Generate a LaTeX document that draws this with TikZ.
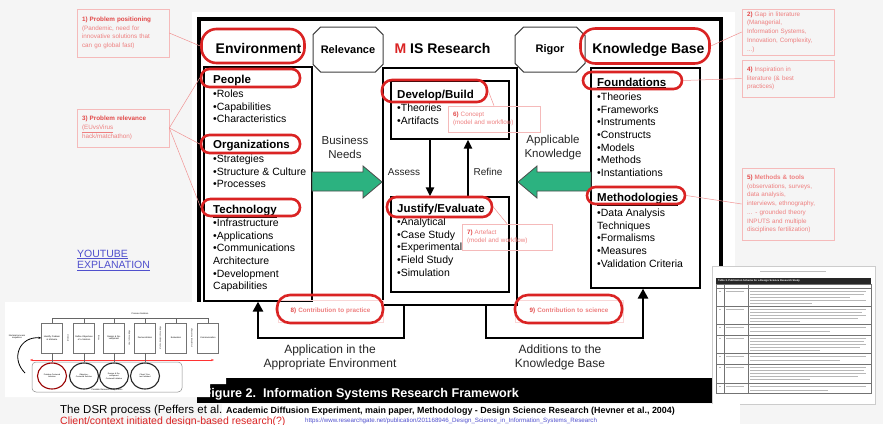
\documentclass[tikz,border=0pt]{standalone}
\usepackage{fontspec}
\setmainfont{Liberation Sans}
\usetikzlibrary{shapes.misc,shapes.geometric,arrows.meta}

\definecolor{ovalred}{RGB}{218,35,35}
\definecolor{notered}{RGB}{226,72,72}
\definecolor{notepink}{RGB}{238,128,128}
\definecolor{noteframe}{RGB}{245,186,186}
\definecolor{needgreen}{RGB}{44,178,128}
\definecolor{linkblue}{RGB}{80,80,205}
\definecolor{slidebg}{RGB}{245,245,245}

\newcommand{\notenum}[1]{{\bfseries\color{notered}#1}}

\begin{document}
\begin{tikzpicture}[x=1pt,y=-1pt,
  panel/.style={draw,line width=1.2pt,fill=white,inner sep=0pt},
  plaque/.style={chamfered rectangle,chamfered rectangle xsep=6pt,draw=black!75,line width=1pt,fill=white,
    minimum width=70,minimum height=45,inner sep=0pt,font=\bfseries\fontsize{11}{13}\selectfont},
  bigtitle/.style={font=\bfseries\fontsize{14}{16}\selectfont,anchor=base,inner sep=0pt},
  headtext/.style={font=\bfseries\fontsize{11.5}{13}\selectfont,anchor=base west,inner sep=0pt},
  itemlist/.style={font=\fontsize{10.5}{12.7}\selectfont,align=left,anchor=north west,inner sep=0pt},
  sidetext/.style={font=\fontsize{11.5}{14}\selectfont,align=center,inner sep=0pt,text=black!85},
  smalltext/.style={font=\fontsize{10}{12}\selectfont,inner sep=0pt,text=black!85},
  bottomtext/.style={font=\fontsize{12}{14}\selectfont,align=center,inner sep=0pt,text=black!85},
  oval/.style={draw=ovalred,line width=2.6pt,rounded corners=#1,inner sep=0pt},
  oval/.default=8pt,
  note/.style={draw=noteframe,line width=0.6pt,text=notepink,font=\fontsize{6.3}{8.7}\selectfont,
    align=left,inner xsep=5pt,inner ysep=0pt,text width=#1},
  noteline/.style={draw=notepink!85,line width=0.5pt},
  needarrow/.style={fill=needgreen,draw=black!70,line width=0.8pt},
  evalarrow/.style={line width=2pt,-{Triangle[length=9pt,width=8pt]}},
  feedback/.style={line width=2.6pt,-{Triangle[length=10pt,width=10pt]}},
  stage/.style={draw=black!55,line width=0.4pt,fill=white,minimum width=21,minimum height=30,
    text width=19,align=center,font=\fontsize{2.2}{2.6}\selectfont,inner sep=0.5pt},
  entrypt/.style={ellipse,line width=1.1pt,fill=white,minimum width=29,minimum height=26,
    inner sep=0pt,text width=17,align=center,font=\fontsize{2}{2.4}\selectfont},
  tinytext/.style={font=\fontsize{2.2}{2.6}\selectfont,inner sep=0pt,align=center},
  textish/.style={draw=black!28,line width=0.8pt}]

% slide and screenshot
\fill[slidebg] (0,0) rectangle (883,424);
\useasboundingbox (0,0) rectangle (883,424);
\fill[white] (192,12) rectangle (735,378);
\draw[line width=3.5pt] (199,310) -- (199,19) -- (721,19) -- (721,300);

% framework boxes
\node[panel,minimum width=108,minimum height=234] (envbox) at (258,184) {};
\node[panel,minimum width=134,minimum height=237] (isr) at (450,186.5) {};
\node[panel,minimum width=118,minimum height=58] (dev) at (450,110) {};
\node[panel,minimum width=118,minimum height=95] (just) at (450,244.5) {};
\node[panel,minimum width=109,minimum height=220] (kbbox) at (645.5,178) {};

% business needs / applicable knowledge
\draw[needarrow] (312,172) -- (363,172) -- (363,166) -- (382,182) -- (363,198) -- (363,191) -- (312,191) -- cycle;
\draw[needarrow] (591,172) -- (537,172) -- (537,166) -- (518,182) -- (537,198) -- (537,191) -- (591,191) -- cycle;

% titles
\node[bigtitle] (envT) at (258.5,53) {Environment};
\node[plaque] (relev) at (348,49.5) {Relevance};
\node[bigtitle] (isrT) at (442.5,53) {{\color{ovalred}M} IS Research};
\node[plaque] (rigor) at (550,49.5) {Rigor};
\node[bigtitle] (kbT) at (648.5,53) {Knowledge Base};

% environment
\node[headtext] (people) at (213,83) {\underline{People}};
\node[itemlist] (peopleL) at (213,89.5) {•Roles\\•Capabilities\\•Characteristics};
\node[headtext] (orgs) at (213,148) {\underline{Organizations}};
\node[itemlist] (orgsL) at (213,154.5) {•Strategies\\•Structure \& Culture\\•Processes};
\node[headtext] (tech) at (213,213) {\underline{Technology}};
\node[itemlist] (techL) at (213,218.5) {•Infrastructure\\•Applications\\•Communications\\Architecture\\•Development\\Capabilities};

% IS research
\node[headtext] (devT) at (397,98) {\underline{Develop/Build}};
\node[itemlist] (devL) at (397,103.5) {•Theories\\•Artifacts};
\node[headtext] (justT) at (397,212) {\underline{Justify/Evaluate}};
\node[itemlist] (justL) at (397,217.5) {•Analytical\\•Case Study\\•Experimental\\•Field Study\\•Simulation};

% knowledge base
\node[headtext] (found) at (597,86) {\underline{Foundations}};
\node[itemlist] (foundL) at (597,92.5) {•Theories\\•Frameworks\\•Instruments\\•Constructs\\•Models\\•Methods\\•Instantiations};
\node[headtext] (meth) at (597,201) {\underline{Methodologies}};
\node[itemlist] (methL) at (597,208.5) {•Data Analysis\\Techniques\\•Formalisms\\•Measures\\•Validation Criteria};

% labels
\node[sidetext] (bneeds) at (345,147) {Business\\Needs};
\node[sidetext] (aknow) at (553,148) {Applicable\\Knowledge};
\node[smalltext] (assessT) at (404,172) {Assess};
\node[smalltext] (refineT) at (488,172) {Refine};
\node[bottomtext] (appT) at (330,357) {Application in the\\Appropriate Environment};
\node[bottomtext] (addT) at (560,357) {Additions to the\\Knowledge Base};

% assess and refine
\coordinate (assessX) at (430,0);
\coordinate (refineX) at (468,0);
\draw[evalarrow] (dev.south -| assessX) -- (just.north -| assessX);
\draw[evalarrow] (just.north -| refineX) -- (dev.south -| refineX);

% application and additions
\coordinate (appR) at (404,338);
\coordinate (appL) at (258,338);
\coordinate (addL) at (486,338);
\coordinate (addR) at (643,338);
\draw[feedback] (isr.south -| appR) -- (appR) -- (appL) -- (envbox.south -| appL);
\draw[feedback] (isr.south -| addL) -- (addL) -- (addR) -- (kbbox.south -| addR);

% notes
\node[note=82,minimum width=92,minimum height=48] (n1) at (123,33) {\notenum{1)} {\bfseries\color{notered}Problem positioning}\\(Pandemic, need for\\innovative solutions that\\can go global fast)};
\node[note=82,minimum width=92,minimum height=38] (n3) at (123,128) {\notenum{3)} {\bfseries\color{notered}Problem relevance}\\\underline{(EUvsVirus}\\hack/matchathon)};
\node[note=82,minimum width=92,minimum height=46] (n2) at (788,32) {\notenum{2)} Gap in literature\\(Managerial,\\Information Systems,\\Innovation, Complexity,\\...)};
\node[note=82,minimum width=92,minimum height=37] (n4) at (788,78.5) {\notenum{4)} Inspiration in\\literature (\& best\\practices)};
\node[note=82,minimum width=92,minimum height=72] (n5) at (788,204) {\notenum{5)} {\bfseries Methods \& tools}\\(observations, surveys,\\data analysis,\\interviews, ethnography,\\... - grounded theory\\INPUTS and multiple\\disciplines fertilization)};
\node[note=82,minimum width=92,minimum height=26] (n6) at (494,119) {\notenum{6)} Concept\\(model and workflow)};
\node[note=80,minimum width=90,minimum height=26] (n7) at (507,237) {\notenum{7)} Artefact\\(model and workflow)};
\node[note=95,draw=noteframe!60,align=center,minimum width=105,minimum height=22] (n8) at (330.5,311) {\notenum{8)} {\bfseries Contribution to practice}};
\node[note=98,draw=noteframe!60,align=center,minimum width=108,minimum height=22] (n9) at (569,311) {\notenum{9)} {\bfseries Contribution to science}};

% ovals
\node[oval=15pt,minimum width=103,minimum height=34] (envO) at (253,46) {};
\node[oval=15pt,minimum width=129,minimum height=35] (kbO) at (645,46) {};
\node[oval=8.5pt,minimum width=99,minimum height=18] (peopleO) at (250.5,78) {};
\node[oval=8.5pt,minimum width=99,minimum height=18] (orgsO) at (250.5,144) {};
\node[oval=8.5pt,minimum width=98,minimum height=17] (techO) at (251,207.5) {};
\node[oval=10pt,minimum width=105,minimum height=22] (devO) at (434.5,91) {};
\node[oval=9.5pt,minimum width=105,minimum height=20] (justO) at (439.5,207) {};
\node[oval=8.5pt,minimum width=99,minimum height=17] (foundO) at (632.5,80.5) {};
\node[oval=8.5pt,minimum width=98,minimum height=17] (methO) at (636,195.5) {};
\node[oval=13pt,minimum width=106,minimum height=28] (pracO) at (330,309) {};
\node[oval=13pt,minimum width=107,minimum height=28] (sciO) at (568.5,309) {};

\draw[noteline] (n1.east) -- (envO.west);
\draw[noteline] (n3.east) -- (peopleO.west);
\draw[noteline] (n3.east) -- (orgsO.west);
\draw[noteline] (n3.east) -- (techO.west);
\draw[noteline] (n2.west) -- (kbO.east);
\draw[noteline] (n4.west) -- (foundO.east);
\draw[noteline] (n5.west) -- (methO.east);
\draw[noteline] (devO.east) -- (n6.north);
\draw[noteline] (justO.east) -- (n7.north);

\node[text=linkblue,font=\fontsize{10.5}{11.5}\selectfont,align=left,anchor=north west,inner sep=0pt] (yt) at (77,249.5) {\underline{YOUTUBE}\\\underline{EXPLANATION}};

% figure caption bar
\fill[black] (197,378) rectangle (735,403);
\node[text=white,font=\bfseries\fontsize{12.6}{14}\selectfont,anchor=base west,inner sep=0pt] (figcap) at (203.5,397) {Figure 2.\ \ Information Systems Research Framework};

% DSR process thumbnail
\fill[white] (5,302) -- (226,302) -- (226,384) -- (210,384) -- (210,397) -- (5,397) -- cycle;
\foreach \i/\x/\lab in {1/52/{Identify Problem \& Motivate},2/84/{Define Objectives of a Solution},3/114/{Design \& Development},4/145/{Demonstration},5/176/{Evaluation},6/208/{Communication}}
  \node[stage] (s\i) at (\x,338) {\lab};
\draw[black!60,line width=0.4pt] (s1.north) -- ++(0,-5) -| (s6.north);
\foreach \i in {2,...,5}
  \draw[black!60,line width=0.4pt] (s\i.north) -- ++(0,-5);
\node[tinytext] (iter) at (140,314) {Process Iteration};
\foreach \x/\lab in {68/Inference,99/Theory,129.5/How to Knowledge,160.5/{Metrics, Analysis Knowledge},192/Disciplinary Knowledge}
  \node[tinytext,font=\fontsize{1.8}{2}\selectfont,rotate=90] (k\x) at (\x,338) {\lab};
\node[draw=black!45,rounded corners=4pt,line width=0.5pt,minimum width=150,minimum height=30,inner sep=0pt] (entry) at (107,377) {};
\coordinate (redL) at (30,360);
\coordinate (redR) at (214,360);
\draw[red!80,line width=0.6pt,{Stealth[length=3pt]}-{Stealth[length=3pt]}] (redL) -- (redR);
\foreach \i/\x/\c/\lab in {1/52/red!60!black/{Problem-Centered Initiation},2/84/black!85/{Objective-Centered Solution},3/114/black!85/{Design \& Development Centered Initiation},4/145/black!85/{Client/ Context Initiated}}
  \node[entrypt,draw=\c] (e\i) at (\x,376) {\lab};
\foreach \i in {1,...,4}
  \draw[black!60,line width=0.4pt] (s\i.south) -- (e\i.north);
\node[tinytext] (entryT) at (107,390) {Possible Research Entry Points};
\node[tinytext] (nominal) at (17,337) {Nominal process\\sequence};
\coordinate (nomStart) at (25,373);
\draw[line width=0.8pt,-{Stealth[length=3pt]}] (nomStart) .. controls (10,358) and (20,336) .. (s1.west);

% table thumbnail
\node[draw=black!20,fill=white,minimum width=163,minimum height=138,anchor=north west,inner sep=0pt] (tablepage) at (712,266) {};
\draw[black!25,line width=1pt] (760,271) -- (826,271);
\fill[black!85] (716,278) rectangle (871,284);
\node[text=white,font=\bfseries\fontsize{2.6}{3}\selectfont,anchor=west,inner sep=0pt] (tabtitle) at (718,281) {Table 3.\ Publication Schema for a Design Science Research Study};
\draw[black!55,line width=0.4pt] (716,284) rectangle (871,393);
\foreach \y in {288,306,324,335,353,364,383}
  \draw[black!55,line width=0.3pt] (716,\y) -- (871,\y);
\draw[black!55,line width=0.3pt] (724,284) -- (724,393) (748,284) -- (748,393);
\foreach \y/\e in {291/866,294/864,297/850,300/866,303/812,309/866,312/862,315/866,318/858,321/800,327/866,331/830,338/866,341/864,344/866,347/860,350/820,356/866,360/840,367/866,370/864,373/866,376/858,379/810,386/866,390/828}
  \draw[textish] (750,\y) -- (\e,\y);
\foreach \y in {291,309,327,338,356,367,386}
  \draw[textish] (726,\y) -- (744,\y) (719,\y) -- (721,\y);

% caption lines
\node[font=\fontsize{11.5}{13}\selectfont,anchor=base west,inner sep=0pt] (dsr) at (60,413) {The DSR process (Peffers et al. MIS 2007)};
\fill[white] (222,404) rectangle (740,424);
\node[font=\bfseries\fontsize{8.9}{10}\selectfont,anchor=base west,inner sep=0pt] (hevner) at (226,413.5) {Academic Diffusion Experiment, main paper, Methodology - Design Science Research (Hevner et al., 2004)};
\node[text=ovalred,font=\fontsize{10.5}{12}\selectfont,anchor=base west,inner sep=0pt] (client) at (60,424) {Client/context initiated design-based research(?)};
\node[text=linkblue,font=\fontsize{6.2}{7}\selectfont,anchor=base west,inner sep=0pt] (url) at (305,422.5) {https://www.researchgate.net/publication/201168946\_Design\_Science\_in\_Information\_Systems\_Research};
\end{tikzpicture}
\end{document}
